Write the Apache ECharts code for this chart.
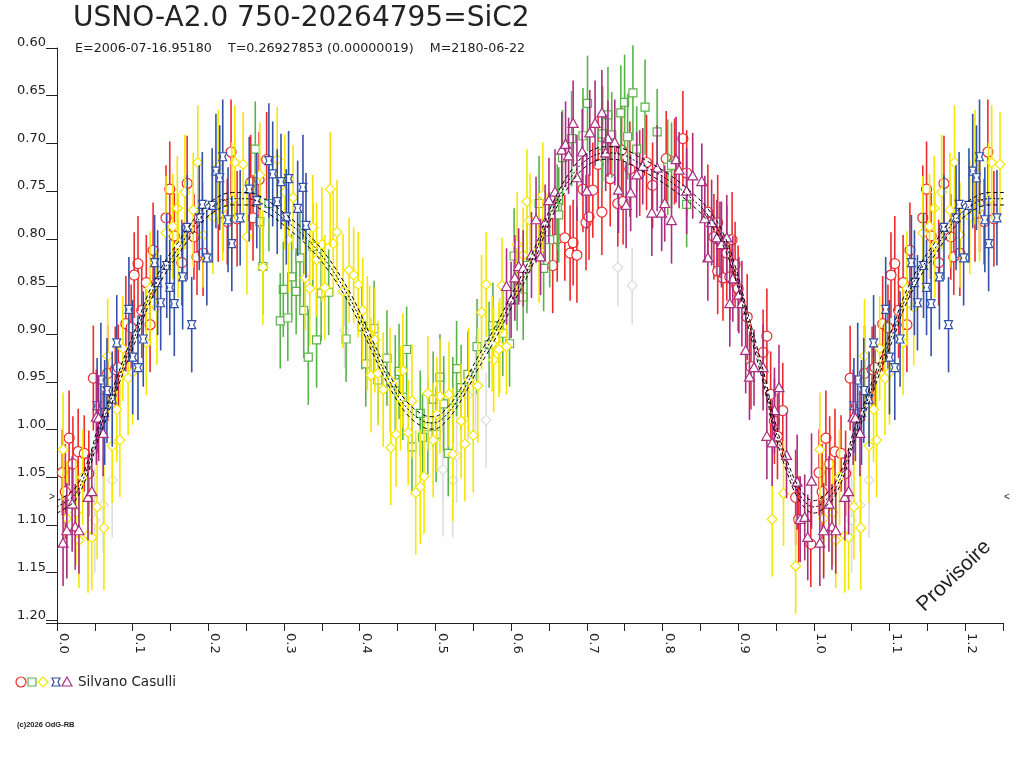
<!DOCTYPE html>
<html>
<head>
<meta charset="utf-8">
<script src="https://cdn.jsdelivr.net/npm/echarts@6/dist/echarts.min.js"></script>
<style>
html, body { margin: 0; padding: 0; background: #fff; }
#chart { width: 1024px; height: 768px; }
</style>
</head>
<body>
<div id="chart"></div>
<script>
// observations: [phase, magnitude, error]
const redPoints = [
  [0.007, 1.045, 0.045], [0.016, 1.009, 0.05], [0.028, 1.023, 0.045], [0.036, 1.025, 0.04],
  [0.021, 1.036, 0.05], [0.042, 1.046, 0.045], [0.011, 1.065, 0.05], [0.048, 0.946, 0.055],
  [0.067, 0.941, 0.05], [0.077, 0.937, 0.045], [0.081, 0.935, 0.045], [0.091, 0.889, 0.05],
  [0.098, 0.893, 0.045], [0.123, 0.890, 0.05], [0.112, 0.875, 0.05], [0.107, 0.826, 0.05],
  [0.102, 0.838, 0.045], [0.118, 0.846, 0.05], [0.127, 0.812, 0.05], [0.144, 0.778, 0.055],
  [0.149, 0.748, 0.05], [0.155, 0.797, 0.045], [0.165, 0.825, 0.045], [0.172, 0.742, 0.05],
  [0.181, 0.798, 0.045], [0.185, 0.819, 0.04], [0.193, 0.815, 0.045], [0.213, 0.774, 0.05],
  [0.219, 0.764, 0.05], [0.225, 0.782, 0.045], [0.230, 0.709, 0.055], [0.238, 0.779, 0.05],
  [0.256, 0.741, 0.05], [0.259, 0.778, 0.045], [0.267, 0.738, 0.05], [0.277, 0.717, 0.05],
  [0.655, 0.828, 0.05], [0.661, 0.800, 0.045], [0.671, 0.799, 0.045], [0.678, 0.815, 0.05],
  [0.682, 0.804, 0.045], [0.687, 0.817, 0.05], [0.695, 0.748, 0.045], [0.699, 0.783, 0.05],
  [0.703, 0.777, 0.045], [0.708, 0.749, 0.05], [0.715, 0.722, 0.05], [0.720, 0.772, 0.045],
  [0.731, 0.737, 0.05], [0.741, 0.763, 0.045], [0.746, 0.707, 0.05], [0.748, 0.761, 0.045],
  [0.757, 0.727, 0.05], [0.770, 0.731, 0.045], [0.779, 0.720, 0.05], [0.787, 0.744, 0.045],
  [0.805, 0.716, 0.05], [0.816, 0.719, 0.045], [0.827, 0.695, 0.05], [0.832, 0.731, 0.045],
  [0.860, 0.772, 0.05], [0.868, 0.798, 0.045], [0.873, 0.783, 0.05], [0.873, 0.834, 0.045],
  [0.880, 0.841, 0.045], [0.885, 0.815, 0.05], [0.889, 0.840, 0.045], [0.892, 0.801, 0.05],
  [0.896, 0.827, 0.045], [0.900, 0.852, 0.045], [0.912, 0.882, 0.045], [0.917, 0.934, 0.045],
  [0.933, 0.919, 0.045], [0.938, 0.902, 0.05], [0.943, 0.963, 0.045], [0.948, 0.991, 0.045],
  [0.952, 1.007, 0.045], [0.959, 0.980, 0.05], [0.976, 1.071, 0.05], [0.980, 1.094, 0.045],
  [0.996, 1.120, 0.045]
];

const greenPoints = [
  [0.262, 0.706, 0.05], [0.268, 0.782, 0.045], [0.280, 0.763, 0.05], [0.272, 0.829, 0.05],
  [0.310, 0.840, 0.045], [0.299, 0.853, 0.05], [0.316, 0.855, 0.045], [0.321, 0.820, 0.05],
  [0.338, 0.808, 0.045], [0.349, 0.857, 0.05], [0.359, 0.856, 0.045], [0.326, 0.875, 0.05],
  [0.295, 0.886, 0.05], [0.305, 0.883, 0.045], [0.343, 0.906, 0.05], [0.332, 0.924, 0.05],
  [0.382, 0.905, 0.045], [0.403, 0.892, 0.045], [0.419, 0.894, 0.05], [0.436, 0.925, 0.05],
  [0.462, 0.916, 0.045], [0.408, 0.931, 0.045], [0.452, 0.939, 0.05], [0.424, 0.948, 0.045],
  [0.447, 0.951, 0.05], [0.457, 0.966, 0.045], [0.497, 0.968, 0.05], [0.506, 0.945, 0.045],
  [0.528, 0.936, 0.05], [0.534, 0.956, 0.045], [0.543, 0.942, 0.045], [0.555, 0.913, 0.05],
  [0.571, 0.911, 0.045], [0.589, 0.899, 0.045], [0.598, 0.910, 0.045], [0.480, 0.983, 0.045],
  [0.511, 0.973, 0.05], [0.523, 0.969, 0.045], [0.490, 0.997, 0.05], [0.483, 1.008, 0.045],
  [0.501, 1.005, 0.05], [0.469, 1.018, 0.05], [0.517, 1.025, 0.045], [0.576, 0.891, 0.045],
  [0.604, 0.818, 0.05], [0.616, 0.861, 0.045], [0.621, 0.828, 0.05], [0.608, 0.851, 0.045],
  [0.637, 0.763, 0.05], [0.643, 0.831, 0.045], [0.651, 0.801, 0.05], [0.661, 0.767, 0.045],
  [0.663, 0.775, 0.05], [0.668, 0.715, 0.05], [0.680, 0.695, 0.05], [0.695, 0.692, 0.05],
  [0.701, 0.658, 0.05], [0.720, 0.702, 0.045], [0.721, 0.690, 0.05], [0.728, 0.670, 0.05],
  [0.733, 0.691, 0.045], [0.745, 0.668, 0.05], [0.750, 0.657, 0.05], [0.754, 0.693, 0.045],
  [0.761, 0.647, 0.05], [0.766, 0.706, 0.045], [0.777, 0.662, 0.05], [0.793, 0.688, 0.045],
  [0.807, 0.725, 0.05], [0.812, 0.723, 0.045], [0.832, 0.764, 0.045]
];

const yellowPoints = [
  [0.008, 1.021, 0.06], [0.053, 1.081, 0.055], [0.025, 1.087, 0.055], [0.013, 1.093, 0.06],
  [0.029, 1.116, 0.05], [0.041, 1.111, 0.06], [0.046, 1.113, 0.055], [0.062, 1.103, 0.065],
  [0.034, 1.050, 0.05], [0.073, 1.017, 0.06], [0.083, 1.011, 0.06], [0.079, 0.979, 0.055],
  [0.094, 0.946, 0.06], [0.100, 0.940, 0.055], [0.067, 0.923, 0.06], [0.087, 0.915, 0.055],
  [0.118, 0.909, 0.055], [0.132, 0.872, 0.06], [0.186, 0.720, 0.06], [0.235, 0.720, 0.06],
  [0.246, 0.722, 0.055], [0.291, 0.717, 0.055], [0.169, 0.751, 0.06], [0.159, 0.768, 0.055],
  [0.180, 0.770, 0.06], [0.153, 0.787, 0.055], [0.144, 0.794, 0.06], [0.193, 0.796, 0.055],
  [0.206, 0.777, 0.06], [0.219, 0.768, 0.055], [0.231, 0.759, 0.06], [0.213, 0.725, 0.06],
  [0.268, 0.733, 0.055], [0.301, 0.751, 0.06], [0.312, 0.757, 0.055], [0.251, 0.798, 0.06],
  [0.306, 0.801, 0.055], [0.272, 0.830, 0.06], [0.338, 0.788, 0.055], [0.350, 0.806, 0.06],
  [0.365, 0.805, 0.055], [0.361, 0.748, 0.06], [0.370, 0.793, 0.055], [0.328, 0.841, 0.055],
  [0.334, 0.852, 0.06], [0.354, 0.851, 0.055], [0.123, 0.852, 0.06], [0.160, 0.807, 0.055],
  [0.343, 0.822, 0.06], [0.386, 0.833, 0.055], [0.392, 0.838, 0.05], [0.398, 0.848, 0.055],
  [0.378, 0.855, 0.06], [0.404, 0.875, 0.055], [0.413, 0.899, 0.05], [0.420, 0.906, 0.055],
  [0.561, 0.877, 0.06], [0.567, 0.848, 0.055], [0.588, 0.849, 0.05], [0.608, 0.806, 0.055],
  [0.616, 0.817, 0.05], [0.621, 0.761, 0.055], [0.625, 0.781, 0.05], [0.637, 0.812, 0.055],
  [0.642, 0.754, 0.055], [0.585, 0.912, 0.05], [0.594, 0.913, 0.05], [0.410, 0.899, 0.06],
  [0.415, 0.943, 0.06], [0.424, 0.941, 0.055], [0.431, 0.958, 0.06], [0.440, 0.948, 0.055],
  [0.457, 0.938, 0.06], [0.454, 0.967, 0.055], [0.469, 0.970, 0.06], [0.490, 0.962, 0.06],
  [0.506, 0.965, 0.06], [0.518, 0.963, 0.055], [0.502, 0.984, 0.06], [0.448, 1.005, 0.055],
  [0.441, 1.019, 0.06], [0.464, 1.003, 0.055], [0.497, 1.011, 0.06], [0.534, 0.991, 0.06],
  [0.523, 1.026, 0.07], [0.539, 1.015, 0.06], [0.550, 1.006, 0.06], [0.556, 0.954, 0.06],
  [0.544, 0.948, 0.055], [0.485, 1.049, 0.06], [0.480, 1.060, 0.06], [0.474, 1.066, 0.065],
  [0.577, 0.927, 0.055], [0.584, 0.916, 0.05], [0.575, 0.910, 0.05], [0.945, 1.094, 0.06],
  [0.960, 1.067, 0.055], [0.976, 1.143, 0.05]
];

const bluePoints = [
  [0.095, 0.874, 0.055], [0.079, 0.909, 0.05], [0.100, 0.924, 0.06], [0.107, 0.935, 0.055],
  [0.114, 0.905, 0.05], [0.137, 0.867, 0.05], [0.155, 0.868, 0.055], [0.178, 0.890, 0.05],
  [0.058, 0.948, 0.06], [0.066, 0.959, 0.055], [0.073, 0.968, 0.05], [0.063, 0.982, 0.055],
  [0.053, 0.975, 0.05], [0.219, 0.714, 0.06], [0.210, 0.729, 0.06], [0.215, 0.736, 0.055],
  [0.280, 0.718, 0.06], [0.285, 0.732, 0.055], [0.296, 0.740, 0.05], [0.306, 0.737, 0.05],
  [0.325, 0.746, 0.055], [0.254, 0.748, 0.055], [0.264, 0.760, 0.05], [0.291, 0.761, 0.055],
  [0.318, 0.768, 0.05], [0.303, 0.777, 0.05], [0.329, 0.786, 0.055], [0.226, 0.780, 0.055],
  [0.242, 0.778, 0.05], [0.231, 0.805, 0.05], [0.205, 0.765, 0.06], [0.192, 0.764, 0.055],
  [0.188, 0.778, 0.055], [0.172, 0.788, 0.055], [0.198, 0.820, 0.05], [0.145, 0.828, 0.055],
  [0.129, 0.825, 0.05], [0.166, 0.840, 0.055], [0.149, 0.851, 0.05], [0.133, 0.846, 0.055]
];

const purplePoints = [
  [0.008, 1.119, 0.045], [0.013, 1.106, 0.05], [0.024, 1.102, 0.045], [0.029, 1.106, 0.045],
  [0.020, 1.078, 0.05], [0.041, 1.071, 0.045], [0.046, 1.065, 0.045], [0.052, 0.987, 0.05],
  [0.055, 0.988, 0.045], [0.061, 1.004, 0.045], [0.594, 0.850, 0.04], [0.600, 0.864, 0.04],
  [0.605, 0.841, 0.045], [0.610, 0.829, 0.04], [0.616, 0.831, 0.04], [0.627, 0.817, 0.045],
  [0.639, 0.819, 0.04], [0.633, 0.780, 0.045], [0.645, 0.783, 0.04], [0.650, 0.760, 0.045],
  [0.658, 0.751, 0.045], [0.682, 0.679, 0.045], [0.667, 0.707, 0.04], [0.672, 0.701, 0.045],
  [0.676, 0.713, 0.04], [0.694, 0.709, 0.045], [0.704, 0.689, 0.045], [0.711, 0.679, 0.045],
  [0.720, 0.668, 0.045], [0.728, 0.695, 0.04], [0.737, 0.699, 0.045], [0.725, 0.710, 0.04],
  [0.687, 0.736, 0.045], [0.700, 0.750, 0.04], [0.742, 0.749, 0.045], [0.758, 0.752, 0.04],
  [0.752, 0.765, 0.045], [0.766, 0.733, 0.045], [0.774, 0.724, 0.04], [0.793, 0.726, 0.045],
  [0.786, 0.773, 0.045], [0.799, 0.773, 0.04], [0.812, 0.781, 0.045], [0.803, 0.763, 0.04],
  [0.818, 0.717, 0.045], [0.822, 0.728, 0.04], [0.832, 0.750, 0.045], [0.840, 0.734, 0.045],
  [0.852, 0.740, 0.04], [0.865, 0.783, 0.045], [0.860, 0.820, 0.045], [0.876, 0.801, 0.04],
  [0.885, 0.799, 0.045], [0.856, 0.779, 0.045], [0.872, 0.799, 0.04], [0.878, 0.806, 0.045],
  [0.893, 0.842, 0.045], [0.889, 0.868, 0.045], [0.901, 0.859, 0.04], [0.905, 0.868, 0.045],
  [0.910, 0.917, 0.045], [0.915, 0.945, 0.045], [0.921, 0.935, 0.04], [0.933, 0.935, 0.045],
  [0.954, 0.956, 0.045], [0.948, 0.980, 0.045], [0.938, 1.007, 0.045], [0.945, 1.014, 0.045],
  [0.964, 1.027, 0.045], [0.978, 1.055, 0.05], [0.997, 1.054, 0.05], [0.982, 1.094, 0.045],
  [0.988, 1.092, 0.045], [0.992, 1.113, 0.045]
];

const grayPoints = [
  [0.523, 1.053, 0.06], [0.528, 1.027, 0.05], [0.553, 0.952, 0.05], [0.510, 1.042, 0.07],
  [0.567, 0.990, 0.05], [0.543, 0.964, 0.05], [0.050, 1.095, 0.055], [0.061, 1.079, 0.05],
  [0.073, 1.053, 0.06], [0.741, 0.830, 0.04], [0.760, 0.849, 0.04], [0.380, 0.896, 0.04]
];

// fitted light curve
const fitPhase = [0.000, 0.020, 0.030, 0.044, 0.053, 0.066, 0.079, 0.092, 0.106, 0.119, 0.140,
  0.162, 0.185, 0.206, 0.232, 0.251, 0.277, 0.304, 0.330, 0.357, 0.383, 0.400, 0.417, 0.440,
  0.462, 0.484, 0.497, 0.515, 0.536, 0.555, 0.576, 0.602, 0.629, 0.655, 0.682, 0.704, 0.727,
  0.748, 0.770, 0.793, 0.814, 0.836, 0.859, 0.880, 0.898, 0.911, 0.925, 0.938, 0.946, 0.964,
  0.982, 1.000];
const fitMag = [1.081, 1.071, 1.060, 1.032, 1.007, 0.980, 0.952, 0.924, 0.896, 0.867, 0.834,
  0.808, 0.782, 0.766, 0.758, 0.758, 0.766, 0.782, 0.800, 0.825, 0.857, 0.883, 0.913, 0.950,
  0.977, 0.991, 0.993, 0.984, 0.960, 0.932, 0.903, 0.863, 0.820, 0.769, 0.732, 0.715, 0.710,
  0.712, 0.721, 0.731, 0.742, 0.756, 0.774, 0.800, 0.840, 0.879, 0.920, 0.960, 0.990, 1.037,
  1.069, 1.081];
const fitBand = 0.0065;
const refMag = 1.071;

const titleText = 'USNO-A2.0 750-20264795=SiC2';
const subtitleText = 'E=2006-07-16.95180    T=0.26927853 (0.00000019)    M=2180-06-22';
const observer = 'Silvano Casulli';

const FONT = '"DejaVu Sans", Verdana, sans-serif';
const FONT2 = '"Liberation Sans", Arial, sans-serif';
const colors = { red: '#ee2b2b', green: '#5ab34a', yellow: '#f5e600', blue: '#3550a8', purple: '#aa2e80', gray: '#dcdcdc' };

// phases below the limit are shown a second time after 1.0
function withRepeat(list, limit) {
  const out = list.slice();
  list.forEach(function (p) {
    if (p[0] > 0 && p[0] < limit) out.push([p[0] + 1].concat(p.slice(1)));
  });
  return out;
}

function symbolShape(kind, x, y, color) {
  const st = { fill: '#fff', stroke: color, lineWidth: 1.2 };
  if (kind === 'circle') return { type: 'circle', shape: { cx: x, cy: y, r: 5 }, style: st };
  if (kind === 'square') return { type: 'rect', shape: { x: x - 4, y: y - 4, width: 8, height: 8 }, style: st };
  if (kind === 'diamond') return { type: 'polygon', shape: { points: [[x, y - 5], [x + 5, y], [x, y + 5], [x - 5, y]] }, style: st };
  if (kind === 'triangle') return { type: 'polygon', shape: { points: [[x, y - 5], [x + 5, y + 4], [x - 5, y + 4]] }, style: st };
  return { type: 'polygon', shape: { points: [[x - 4, y - 4], [x + 4, y - 4], [x + 2, y], [x + 4, y + 4], [x - 4, y + 4], [x - 2, y]] }, style: st };
}

function errorSeries(name, points, color, kind) {
  return {
    name: name,
    type: 'custom',
    data: withRepeat(points, 0.25),
    encode: { x: 0, y: 1 },
    renderItem: function (params, api) {
      const ph = api.value(0), m = api.value(1), e = api.value(2);
      const c = api.coord([ph, m]);
      const top = api.coord([ph, m - e]);
      const bot = api.coord([ph, m + e]);
      return {
        type: 'group',
        children: [
          { type: 'line', shape: { x1: c[0], y1: top[1], x2: c[0], y2: bot[1] }, style: { stroke: color, lineWidth: 1.6 } },
          symbolShape(kind, c[0], c[1], color)
        ]
      };
    }
  };
}

const fitBase = fitPhase.map(function (p, i) { return [p, fitMag[i]]; });
const fitData = withRepeat(fitBase, 0.3);
const fitUpper = fitData.map(function (d) { return [d[0], d[1] - fitBand]; });
const fitLower = fitData.map(function (d) { return [d[0], d[1] + fitBand]; });

function fitLine(name, data, dash) {
  return {
    name: name, type: 'line', data: data, smooth: 0.4, showSymbol: false, z: 5, silent: true,
    lineStyle: { color: '#000', width: 1, type: dash }
  };
}

var chart = echarts.init(document.getElementById('chart'));
chart.setOption({
  animation: false,
  backgroundColor: '#fff',
  title: [
    { text: titleText, left: 68, top: 0, textStyle: { fontFamily: FONT, fontSize: 28, fontWeight: 'normal', color: '#222' } },
    { text: subtitleText, left: 70, top: 37, textStyle: { fontFamily: FONT, fontSize: 12.7, fontWeight: 'normal', color: '#222' } }
  ],
  grid: { left: 57, top: 48, width: 946, height: 575, containLabel: false },
  xAxis: {
    type: 'value', min: 0, max: 1.25, interval: 0.05,
    splitLine: { show: false },
    axisLine: { lineStyle: { color: '#222', width: 1 } },
    axisTick: { length: 8, lineStyle: { color: '#222' } },
    axisLabel: {
      rotate: -90, interval: 0, margin: 10, verticalAlign: 'bottom',
      color: '#222', fontFamily: FONT, fontSize: 13,
      formatter: function (v) { return Math.round(v * 100) % 10 === 0 ? v.toFixed(1) : ''; }
    }
  },
  yAxis: {
    type: 'value', inverse: true, min: 0.6, max: 1.2027, interval: 0.05,
    splitLine: { show: false },
    axisLine: { show: true, lineStyle: { color: '#222', width: 1 } },
    axisTick: { show: true, length: 11, lineStyle: { color: '#222' } },
    axisLabel: {
      margin: 11, verticalAlign: 'bottom', lineHeight: 10, color: '#222', fontFamily: FONT, fontSize: 13,
      formatter: function (v) { return v > 1.201 ? '' : v.toFixed(2); }
    }
  },
  series: [
    errorSeries('gray', grayPoints, colors.gray, 'diamond'),
    errorSeries('red', redPoints, colors.red, 'circle'),
    errorSeries('green', greenPoints, colors.green, 'square'),
    errorSeries('yellow', yellowPoints, colors.yellow, 'diamond'),
    errorSeries('blue', bluePoints, colors.blue, 'hourglass'),
    errorSeries('purple', purplePoints, colors.purple, 'triangle'),
    fitLine('fit', fitData, [2, 2]),
    fitLine('fit+', fitUpper, [4, 3]),
    fitLine('fit-', fitLower, [4, 3])
  ],
  graphic: [
    { id: 'axisExt', type: 'line', shape: { x1: 46, y1: 623.5, x2: 57, y2: 623.5 }, style: { stroke: '#222', lineWidth: 1 } },
    { id: 'lg1', type: 'circle', shape: { cx: 21, cy: 682, r: 5 }, style: { fill: '#fff', stroke: colors.red, lineWidth: 1.2 } },
    { id: 'lg2', type: 'rect', shape: { x: 28, y: 678, width: 8, height: 8 }, style: { fill: '#fff', stroke: colors.green, lineWidth: 1.2 } },
    { id: 'lg3', type: 'polygon', shape: { points: [[43, 677], [48, 682], [43, 687], [38, 682]] }, style: { fill: '#fff', stroke: colors.yellow, lineWidth: 1.2 } },
    { id: 'lg4', type: 'polygon', shape: { points: [[52, 678], [60, 678], [58, 682], [60, 686], [52, 686], [54, 682]] }, style: { fill: '#fff', stroke: colors.blue, lineWidth: 1.2 } },
    { id: 'lg5', type: 'polygon', shape: { points: [[67, 677], [72, 686], [62, 686]] }, style: { fill: '#fff', stroke: colors.purple, lineWidth: 1.2 } },
    { id: 'lgText', type: 'text', x: 78, y: 682, style: { text: observer, fontFamily: FONT, fontSize: 13.5, fill: '#222', verticalAlign: 'middle' } },
    { id: 'copy', type: 'text', x: 17, y: 725, style: { text: '(c)2026 OdG-RB', fontFamily: FONT2, fontSize: 7.5, fontWeight: 'bold', fill: '#222', verticalAlign: 'middle' } },
    { id: 'prov', type: 'text', x: 954, y: 576, rotation: 0.76, style: { text: 'Provisoire', fontFamily: FONT2, fontSize: 21, fill: '#222', align: 'center', verticalAlign: 'middle' } }
  ]
});

// small markers at the reference magnitude on both sides of the plot
const leftPx = chart.convertToPixel({ gridIndex: 0 }, [0, refMag]);
const rightPx = chart.convertToPixel({ gridIndex: 0 }, [1.25, refMag]);
chart.setOption({
  graphic: [
    { id: 'mkL', type: 'text', x: leftPx[0] - 5, y: leftPx[1], style: { text: '>', fontFamily: FONT2, fontSize: 10, fill: '#222', align: 'center', verticalAlign: 'middle' } },
    { id: 'mkR', type: 'text', x: rightPx[0] + 4, y: rightPx[1], style: { text: '<', fontFamily: FONT2, fontSize: 10, fill: '#222', align: 'center', verticalAlign: 'middle' } }
  ]
});
</script>
</body>
</html>
